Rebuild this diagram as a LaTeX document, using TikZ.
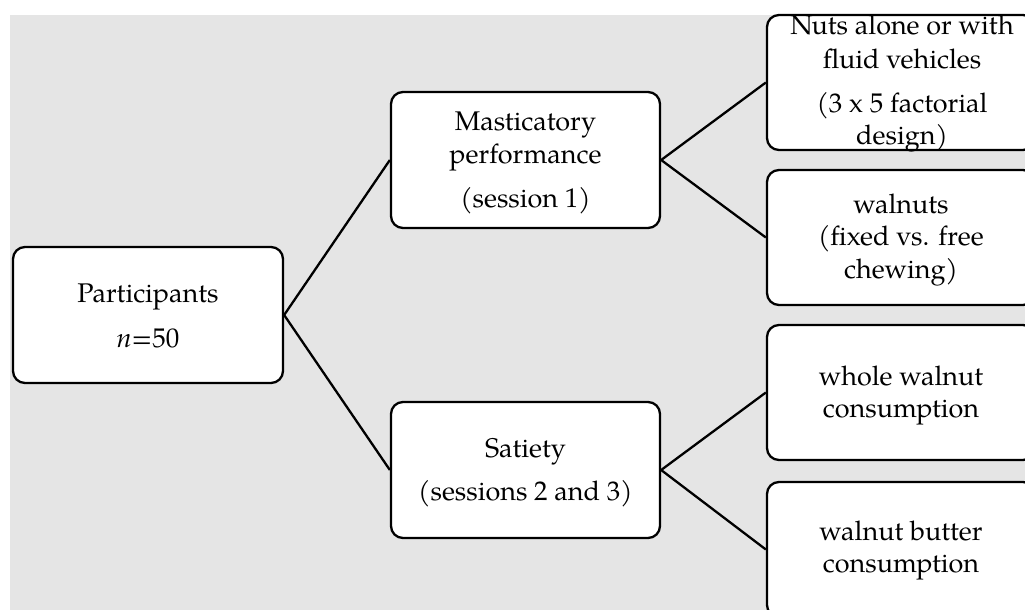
\documentclass[tikz,border=0pt]{standalone}
\usepackage{fontspec}
\setmainfont{TeX Gyre Pagella}
\definecolor{bggray}{RGB}{229,229,229}
\begin{document}
\begin{tikzpicture}[x=1pt,y=-1pt,
  box/.style={draw=black, line width=2.3pt, rounded corners=12pt, fill=white, inner sep=0pt},
  conn/.style={draw=black, line width=2.3pt},
  txt/.style={anchor=base, inner sep=0pt, font=\fontsize{27}{32}\selectfont}]
\useasboundingbox (0,0) rectangle (1025,610);
\clip (0,0) rectangle (1025,610);
\fill[bggray] (10,15) rectangle (1030,615);
% boxes (positions)
\node[box, minimum width=270pt, minimum height=136pt] (part) at (148,315) {};
\node[box, minimum width=269pt, minimum height=136pt] (mast) at (525.5,160) {};
\node[box, minimum width=269pt, minimum height=136pt] (sat) at (525.5,470) {};
\node[box, minimum width=268pt, minimum height=135pt] (nuts) at (901,82.5) {};
\node[box, minimum width=268pt, minimum height=135pt] (waln) at (901,237.5) {};
\node[box, minimum width=268pt, minimum height=135pt] (whole) at (901,392.5) {};
\node[box, minimum width=268pt, minimum height=135pt] (butter) at (901,549.5) {};
% connectors
\draw[conn] (part.east) -- (mast.west);
\draw[conn] (part.east) -- (sat.west);
\draw[conn] (mast.east) -- (nuts.west);
\draw[conn] (mast.east) -- (waln.west);
\draw[conn] (sat.east) -- (whole.west);
\draw[conn] (sat.east) -- (butter.west);
% texts
\node[txt] (partA) at (148,302) {Participants};
\node[txt] (partB) at (148,347) {\textit{n}=50};
\node[txt] (mastA) at (525.5,130) {Masticatory};
\node[txt] (mastB) at (525.5,163) {performance};
\node[txt] (mastC) at (525.5,207) {(session 1)};
\node[txt] (satA) at (525.5,457) {Satiety};
\node[txt] (satB) at (525.5,500) {(sessions 2 and 3)};
\node[txt] (nutsA) at (902,35) {Nuts alone or with};
\node[txt] (nutsB) at (902,69) {fluid vehicles};
\node[txt] (nutsC) at (902,112) {(3 x 5 factorial};
\node[txt] (nutsD) at (902,144) {design)};
\node[txt] (walnA) at (901,213) {walnuts};
\node[txt] (walnB) at (901,245) {(fixed vs. free};
\node[txt] (walnC) at (901,278) {chewing)};
\node[txt] (wholeA) at (901,385) {whole walnut};
\node[txt] (wholeB) at (901,417) {consumption};
\node[txt] (butterA) at (901,540) {walnut butter};
\node[txt] (butterB) at (901,572) {consumption};
\end{tikzpicture}
\end{document}
